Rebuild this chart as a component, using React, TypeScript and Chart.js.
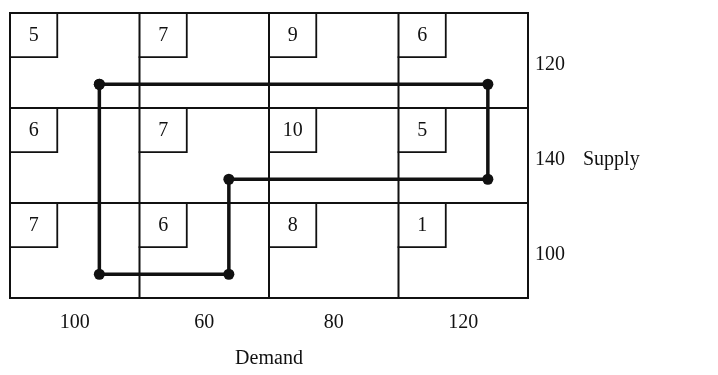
import React, { useEffect, useRef } from "react";
import { Chart, registerables } from "chart.js";

Chart.register(...registerables);

const demand = ["100", "60", "80", "120"];
const supply = ["120", "140", "100"];
const costs = [
  [5, 7, 9, 6],
  [6, 7, 10, 5],
  [7, 6, 8, 1],
];
// loop of cells (row, col), traversed in order and closed
const loopRows = [0, 0, 1, 1, 2, 2];
const loopCols = [0, 3, 3, 1, 1, 0];

const FONT = '"Liberation Serif", "DejaVu Serif", serif';
const INK = "#111";

export default function App() {
  const ref = useRef<HTMLCanvasElement | null>(null);
  useEffect(() => {
    document.body.style.margin = "0";
    const canvas = ref.current!;
    const pts = loopRows.map((r, i) => ({ x: loopCols[i] + 0.69, y: r + 0.75 }));
    pts.push(pts[0]);

    const gridPlugin = {
      id: "gridPlugin",
      beforeDatasetsDraw(chart: any) {
        const ctx = chart.ctx;
        const xs = chart.scales.x;
        const ys = chart.scales.y;
        const nr = costs.length;
        const nc = costs[0].length;
        ctx.save();
        ctx.strokeStyle = INK;
        ctx.lineWidth = 2;
        ctx.lineCap = "square";
        for (let c = 0; c <= nc; c++) {
          const px = xs.getPixelForValue(c);
          ctx.beginPath();
          ctx.moveTo(px, ys.getPixelForValue(0));
          ctx.lineTo(px, ys.getPixelForValue(nr));
          ctx.stroke();
        }
        for (let r = 0; r <= nr; r++) {
          const py = ys.getPixelForValue(r);
          ctx.beginPath();
          ctx.moveTo(xs.getPixelForValue(0), py);
          ctx.lineTo(xs.getPixelForValue(nc), py);
          ctx.stroke();
        }
        // cost boxes
        ctx.lineWidth = 1.8;
        ctx.font = `20px ${FONT}`;
        ctx.fillStyle = INK;
        ctx.textAlign = "center";
        ctx.textBaseline = "middle";
        for (let r = 0; r < nr; r++) {
          for (let c = 0; c < nc; c++) {
            const x0 = xs.getPixelForValue(c);
            const y0 = ys.getPixelForValue(r);
            const x1 = xs.getPixelForValue(c + 0.365);
            const y1 = ys.getPixelForValue(r + 0.465);
            ctx.beginPath();
            ctx.moveTo(x0, y1);
            ctx.lineTo(x1, y1);
            ctx.lineTo(x1, y0);
            ctx.stroke();
            ctx.fillText(String(costs[r][c]), (x0 + x1) / 2, (y0 + y1) / 2 + 1);
          }
        }
        // demand labels
        const yb = ys.getPixelForValue(nr);
        demand.forEach((d, c) => {
          ctx.fillText(d, xs.getPixelForValue(c + 0.5), yb + 25);
        });
        ctx.fillText("Demand", (xs.getPixelForValue(0) + xs.getPixelForValue(nc)) / 2, yb + 61);
        // supply labels
        ctx.textAlign = "left";
        const xr = xs.getPixelForValue(nc);
        supply.forEach((s, r) => {
          ctx.fillText(s, xr + 7, ys.getPixelForValue(r + 0.5) + 4);
        });
        ctx.fillText("Supply", xr + 55, ys.getPixelForValue(1.5) + 4);
        ctx.restore();
      },
    };

    const chart = new Chart(canvas, {
      type: "scatter",
      data: {
        datasets: [
          {
            data: pts,
            showLine: true,
            borderColor: INK,
            backgroundColor: INK,
            borderWidth: 3.5,
            pointRadius: 5.5,
            pointHoverRadius: 5.5,
            pointBackgroundColor: INK,
            pointBorderWidth: 0,
          },
        ],
      },
      options: {
        animation: false,
        responsive: false,
        maintainAspectRatio: false,
        layout: { padding: { left: 10, top: 13, right: 190, bottom: 77 } },
        plugins: { legend: { display: false }, tooltip: { enabled: false } },
        scales: {
          x: { type: "linear", min: 0, max: 4, display: false },
          y: { type: "linear", min: 0, max: 3, reverse: true, display: false },
        },
      },
      plugins: [gridPlugin],
    });
    return () => chart.destroy();
  }, []);
  return (
    <div style={{ width: 718, height: 375, background: "#fff" }}>
      <canvas ref={ref} width={718} height={375} style={{ display: "block" }} />
    </div>
  );
}
